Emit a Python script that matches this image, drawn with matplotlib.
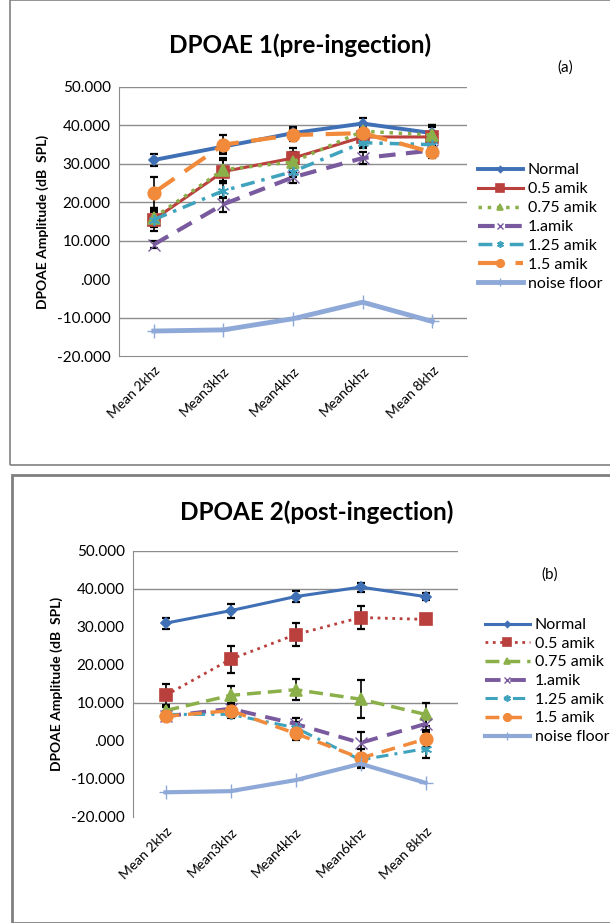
import matplotlib.pyplot as plt
from matplotlib.patches import Rectangle

plt.rcParams['font.family'] = ['Lato', 'DejaVu Sans']

freqs = ['Mean 2khz', 'Mean3khz', 'Mean4khz', 'Mean6khz', 'Mean 8khz']
groups = ['Normal', '0.5 amik', '0.75 amik', '1.amik', '1.25 amik', '1.5 amik', 'noise floor']

# pre-injection
pre_normal = [31.0, 34.5, 38.0, 40.5, 38.0]
pre_05 = [15.5, 28.0, 31.5, 37.0, 37.0]
pre_075 = [16.0, 28.5, 30.5, 38.5, 37.5]
pre_1 = [9.0, 19.5, 26.5, 31.5, 33.5]
pre_125 = [15.5, 23.0, 28.0, 35.5, 35.0]
pre_15 = [22.5, 35.0, 37.5, 38.0, 33.0]
pre_noise = [-13.5, -13.2, -10.3, -6.0, -11.0]
pre_err = {
    'Normal': [1.5, 1.5, 1.5, 1.5, 1.5],
    '0.5 amik': [3.0, 3.0, 2.5, 2.5, 3.0],
    '0.75 amik': [2.0, 3.0, 2.5, 1.5, 2.5],
    '1.amik': [1.0, 2.0, 1.5, 1.5, 1.5],
    '1.25 amik': [2.0, 2.0, 1.5, 1.5, 1.5],
    '1.5 amik': [4.0, 2.5, 1.5, 2.0, 1.5],
}

# post-injection
post_normal = [31.0, 34.3, 38.0, 40.5, 38.0]
post_05 = [12.0, 21.5, 28.0, 32.5, 32.0]
post_075 = [8.0, 12.0, 13.5, 11.0, 7.0]
post_1 = [6.5, 8.5, 4.5, -0.5, 4.5]
post_125 = [7.0, 7.0, 3.5, -5.0, -2.0]
post_15 = [6.5, 8.0, 2.0, -4.5, 0.5]
post_noise = [-13.5, -13.2, -10.3, -6.0, -11.0]
post_err = {
    'Normal': [1.5, 1.8, 1.5, 1.2, 1.0],
    '0.5 amik': [3.0, 3.5, 3.0, 3.0, 0.5],
    '0.75 amik': [1.5, 2.5, 2.8, 5.0, 3.0],
    '1.amik': [1.0, 1.5, 1.5, 3.0, 1.5],
    '1.25 amik': [1.0, 1.0, 1.5, 1.5, 2.5],
    '1.5 amik': [1.0, 1.0, 1.8, 2.5, 2.0],
}

colors = ['#3F6FB5', '#B9403C', '#8BB04A', '#7A5A9E', '#3FA3BD', '#F18A3A', '#8EA9D8']
markers = ['D', 's', '^', 'x', (6, 2, 0), 'o', '+']
msizes = [5, 9, 8, 8, 8, 9, 10]

pre_styles = ['-', '-', ':', (0, (4, 2.5)), (0, (4, 2, 1, 2)), (0, (6, 3)), '-']
post_styles = ['-', ':', (0, (4, 2)), (0, (4, 2.5)), (0, (4, 2, 1, 2)), (0, (4, 2.5)), '-']
pre_widths = [2.8, 2.2, 2.5, 3.0, 2.5, 3.0, 3.5]
post_widths = [2.2, 2.0, 2.5, 2.8, 2.2, 2.5, 3.0]

fig = plt.figure(figsize=(6.1, 9.23), dpi=100)

# panel frames
fig.patches.append(Rectangle((10 / 610, 1 - 465 / 923), 0.99, 465 / 923, transform=fig.transFigure,
                             fill=False, edgecolor='#808080', linewidth=1.2))
fig.patches.append(Rectangle((12 / 610, 0.0), 0.99, 1 - 475 / 923, transform=fig.transFigure,
                             fill=False, edgecolor='#808080', linewidth=2.0))


def draw_panel(ax, series, errs, styles, widths, grid_vals, bottom_spine):
    x = list(range(len(freqs)))
    for i, name in enumerate(groups):
        vals = series[i]
        if name in errs:
            ax.errorbar(x, vals, yerr=errs[name], fmt='none', ecolor='black',
                        elinewidth=1.2, capsize=3, capthick=1.6, zorder=2)
        ax.plot(x, vals, color=colors[i], linestyle=styles[i], linewidth=widths[i],
                marker=markers[i], markersize=msizes[i], markeredgecolor=colors[i],
                markeredgewidth=1.2 if name not in ('1.amik', 'noise floor') else 1.0,
                label=name, zorder=3)
    for g in grid_vals:
        ax.axhline(g, color='#8C8C8C', linewidth=1.0, zorder=1)
    ax.set_xlim(-0.5, len(freqs) - 0.5)
    ax.set_ylim(-20, 50)
    ax.set_yticks(range(-20, 51, 10))
    ax.set_yticklabels(['%.3f' % v if v != 0 else '.000' for v in range(-20, 51, 10)], fontsize=11)
    ax.set_xticks(x)
    ax.set_xticklabels(freqs, rotation=45, ha='right', rotation_mode='anchor', fontsize=10)
    ax.tick_params(length=0, pad=6)
    for s in ['top', 'right']:
        ax.spines[s].set_visible(False)
    ax.spines['left'].set_color('#8C8C8C')
    ax.spines['bottom'].set_color('#8C8C8C')
    ax.spines['bottom'].set_visible(bottom_spine)
    ax.set_ylabel('DPOAE Amplitude (dB  SPL)', fontsize=10, fontweight='bold', labelpad=6)


ax1 = fig.add_axes([119 / 610, 1 - 356 / 923, 348 / 610, 269 / 923])
draw_panel(ax1, [pre_normal, pre_05, pre_075, pre_1, pre_125, pre_15, pre_noise],
           pre_err, pre_styles, pre_widths, [50, 40, 30, 20, 10, -10], True)
ax1.legend(loc='upper left', bbox_to_anchor=(478 / 610, 1 - 163 / 923), bbox_transform=fig.transFigure,
           frameon=False, fontsize=11.5, handlelength=2.8, handletextpad=0.3, labelspacing=0.3,
           borderaxespad=0, borderpad=0, markerscale=0.6)
fig.text(300 / 610, 1 - 45 / 923, 'DPOAE 1(pre-ingection)', ha='center', va='center',
         fontsize=17.5, fontweight='bold')
fig.text(565 / 610, 1 - 68 / 923, '(a)', ha='center', va='center', fontsize=11)

ax2 = fig.add_axes([133 / 610, 1 - 817 / 923, 325 / 610, 266 / 923])
draw_panel(ax2, [post_normal, post_05, post_075, post_1, post_125, post_15, post_noise],
           post_err, post_styles, post_widths, [50, 40, 10], False)
ax2.legend(loc='upper left', bbox_to_anchor=(485 / 610, 1 - 618 / 923), bbox_transform=fig.transFigure,
           frameon=False, fontsize=11.5, handlelength=2.8, handletextpad=0.3, labelspacing=0.28,
           borderaxespad=0, borderpad=0, markerscale=0.6)
fig.text(317 / 610, 1 - 512 / 923, 'DPOAE 2(post-ingection)', ha='center', va='center',
         fontsize=17.5, fontweight='bold')
fig.text(550 / 610, 1 - 575 / 923, '(b)', ha='center', va='center', fontsize=11)

fig.savefig('out.png', dpi=100)
